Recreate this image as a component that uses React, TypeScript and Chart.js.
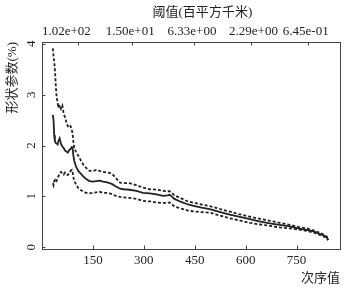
import React, { useEffect, useRef } from "react";
import { Chart, registerables } from "chart.js";

Chart.register(...registerables);

const orderX = [32, 34, 36, 38, 40, 43, 46, 48, 52, 56, 60, 64, 68, 72, 76, 80, 84, 88, 90, 92, 95, 100, 107, 115, 122, 130, 140, 150, 160, 170, 180, 190, 199, 207, 214, 222, 230, 240, 258, 278, 298, 318, 337, 357, 370, 376, 382, 390, 410, 430, 450, 470, 494, 520, 553, 580, 612, 640, 671, 700, 730, 755, 780, 800, 819, 830, 839, 843];

const upperY = [3.91, 3.75, 3.66, 3.5, 3.25, 2.95, 2.85, 2.74, 2.8, 2.72, 2.78, 2.62, 2.55, 2.45, 2.38, 2.35, 2.38, 2.3, 2.24, 2.1, 1.95, 1.88, 1.8, 1.7, 1.62, 1.56, 1.5, 1.5, 1.52, 1.5, 1.48, 1.47, 1.46, 1.44, 1.39, 1.33, 1.27, 1.26, 1.26, 1.22, 1.17, 1.14, 1.13, 1.11, 1.1, 1.1, 1.07, 1.02, 0.96, 0.9, 0.87, 0.84, 0.81, 0.76, 0.7, 0.65, 0.6, 0.56, 0.52, 0.48, 0.44, 0.4, 0.37, 0.33, 0.28, 0.25, 0.21, 0.14];

const middleY = [2.6, 2.5, 2.2, 2.08, 2.05, 2.04, 2.02, 2.08, 2.14, 2.03, 1.98, 1.95, 1.9, 1.88, 1.86, 1.91, 1.93, 1.97, 1.96, 1.82, 1.7, 1.59, 1.5, 1.44, 1.39, 1.34, 1.3, 1.29, 1.3, 1.31, 1.29, 1.28, 1.26, 1.24, 1.21, 1.18, 1.15, 1.14, 1.13, 1.11, 1.07, 1.06, 1.04, 1.01, 1.02, 1.03, 1.0, 0.95, 0.89, 0.84, 0.81, 0.78, 0.75, 0.7, 0.64, 0.6, 0.55, 0.51, 0.47, 0.44, 0.41, 0.37, 0.34, 0.31, 0.26, 0.23, 0.2, 0.14];

const lowerY = [1.26, 1.22, 1.3, 1.32, 1.28, 1.3, 1.36, 1.39, 1.45, 1.48, 1.46, 1.43, 1.47, 1.44, 1.42, 1.45, 1.5, 1.52, 1.49, 1.39, 1.3, 1.24, 1.16, 1.12, 1.09, 1.07, 1.06, 1.07, 1.08, 1.09, 1.07, 1.07, 1.06, 1.04, 1.02, 1.0, 0.99, 0.98, 0.97, 0.95, 0.91, 0.9, 0.88, 0.87, 0.87, 0.88, 0.85, 0.8, 0.76, 0.72, 0.7, 0.69, 0.68, 0.63, 0.57, 0.53, 0.48, 0.45, 0.42, 0.39, 0.37, 0.35, 0.32, 0.29, 0.24, 0.21, 0.18, 0.14];

const bottomTicks = [150, 300, 450, 600, 750];
const leftTicks = [0, 1, 2, 3, 4];
const topTickMarks = [105, 264, 449, 616, 783];
const topLabelPositions = [72, 260, 442, 623, 777];
const topTickLabels = ["1.02e+02", "1.50e+01", "6.33e+00", "2.29e+00", "6.45e-01"];

const xTitle = "次序值";
const yTitle = "形状参数(%)";
const topTitle = "阈值(百平方千米)";

const FONT = "'Liberation Serif', 'Times New Roman', 'Noto Sans CJK SC', serif";
const TEXT = "#222";
const AXIS = "#444";

const framePlugin = {
  id: "frame",
  afterDraw(chart: any) {
    const { ctx, chartArea: a, scales } = chart;
    const L = Math.round(a.left) + 0.5;
    const T = Math.round(a.top) + 0.5;
    const R = Math.round(a.right) + 0.5;
    const B = Math.round(a.bottom) + 0.5;
    ctx.save();
    ctx.strokeStyle = AXIS;
    ctx.lineWidth = 1;
    ctx.strokeRect(L, T, R - L, B - T);
    ctx.beginPath();
    for (const v of bottomTicks) {
      const px = Math.round(scales.x.getPixelForValue(v)) + 0.5;
      ctx.moveTo(px, B);
      ctx.lineTo(px, B - 4);
    }
    for (const v of topTickMarks) {
      const px = Math.round(scales.x.getPixelForValue(v)) + 0.5;
      ctx.moveTo(px, T);
      ctx.lineTo(px, T + 3);
    }
    for (const v of leftTicks) {
      const py = Math.round(scales.y.getPixelForValue(v)) + 0.5;
      ctx.moveTo(L, py);
      ctx.lineTo(L + 3, py);
    }
    ctx.stroke();
    ctx.fillStyle = TEXT;
    ctx.font = `13px ${FONT}`;
    ctx.textAlign = "center";
    ctx.textBaseline = "middle";
    topLabelPositions.forEach((v, i) => {
      ctx.fillText(topTickLabels[i], scales.x.getPixelForValue(v), 31.5);
    });
    ctx.restore();
  },
};

const toPts = (ys: number[]) => orderX.map((x, i) => ({ x, y: ys[i] }));

export default function App() {
  const ref = useRef<HTMLCanvasElement>(null);
  useEffect(() => {
    document.body.style.margin = "0";
    const canvas = ref.current!;
    const font = { family: FONT, size: 13 };
    const chart = new Chart(canvas, {
      type: "line",
      data: {
        datasets: [
          { data: toPts(upperY), borderColor: "#222", borderWidth: 1.8, borderDash: [3, 2], pointRadius: 0, tension: 0, fill: false },
          { data: toPts(middleY), borderColor: "#222", borderWidth: 1.8, pointRadius: 0, tension: 0, fill: false },
          { data: toPts(lowerY), borderColor: "#222", borderWidth: 1.8, borderDash: [3, 2], pointRadius: 0, tension: 0, fill: false },
        ],
      },
      options: {
        animation: false,
        responsive: false,
        maintainAspectRatio: false,
        layout: { padding: { left: 0, right: 10, top: 0, bottom: 0 } },
        plugins: { legend: { display: false }, tooltip: { enabled: false }, title: { display: false } },
        scales: {
          x: {
            type: "linear",
            position: "bottom",
            min: 0,
            max: 878,
            afterBuildTicks: (s: any) => { s.ticks = bottomTicks.map((v) => ({ value: v })); },
            afterFit: (s: any) => { s.height = 42; },
            ticks: { font, color: TEXT, padding: 8, autoSkip: false, maxRotation: 0, minRotation: 0 },
            grid: { display: false, drawOnChartArea: false, drawTicks: true, tickLength: -4, color: AXIS },
            border: { display: false },
            title: { display: true, text: xTitle, align: "end", font, color: TEXT, padding: { top: 0, bottom: 4.5 } },
          },
          x2: {
            type: "linear",
            position: "top",
            min: 0,
            max: 878,
            afterFit: (s: any) => { s.height = 42; },
            ticks: { display: false },
            grid: { display: false, drawOnChartArea: false, drawTicks: false },
            border: { display: false },
            title: { display: true, text: "       " + topTitle, align: "center", font, color: TEXT, padding: { top: 5, bottom: 0 } },
          },
          y: {
            type: "linear",
            position: "left",
            min: -0.035,
            max: 4.035,
            afterBuildTicks: (s: any) => { s.ticks = leftTicks.map((v) => ({ value: v })); },
            afterFit: (s: any) => { s.width = 42; },
            ticks: { font, color: TEXT, padding: 10, minRotation: 90, maxRotation: 90, crossAlign: "center", autoSkip: false },
            grid: { display: false, drawOnChartArea: false, drawTicks: true, tickLength: -3, color: AXIS },
            border: { display: false },
            title: { display: true, text: yTitle, align: "end", font, color: TEXT, padding: { top: 5, bottom: 0 } },
          },
        },
      },
      plugins: [framePlugin],
    } as any);
    return () => chart.destroy();
  }, []);
  return <canvas ref={ref} width={350} height={291} style={{ display: "block" }} />;
}
